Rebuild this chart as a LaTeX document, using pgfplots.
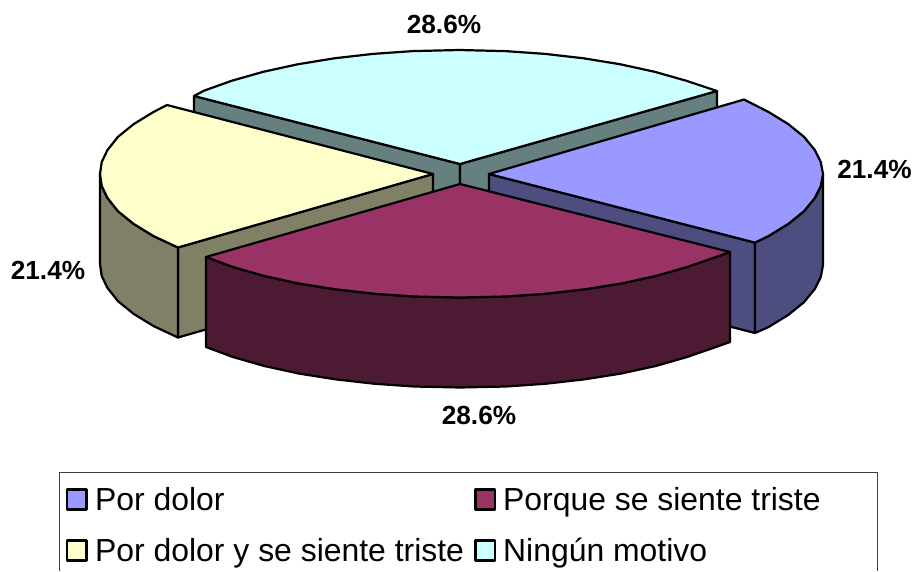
\documentclass[border=0pt]{standalone}
\usepackage{pgfplots}
\pgfplotsset{compat=1.18}
\usepackage{fontspec}
\setmainfont{Liberation Sans}
\definecolor{pT}{HTML}{9999FF}\definecolor{pW}{HTML}{4D4D80}
\definecolor{mT}{HTML}{993366}\definecolor{mW}{HTML}{4D1A33}
\definecolor{yT}{HTML}{FFFFCC}\definecolor{yW}{HTML}{808066}
\definecolor{cT}{HTML}{CCFFFF}\definecolor{cW}{HTML}{668080}
\begin{document}
\begin{tikzpicture}
\begin{axis}[
  scale only axis, width=916pt, height=571pt,
  xmin=0, xmax=916, ymin=0, ymax=571, y dir=reverse,
  hide axis, no marks,
  every axis plot/.append style={draw=black, line width=2.2pt, line join=round, mark=none},
]
\path[draw=none] (axis cs:0,0) rectangle (axis cs:916,571);
% --- Ningun motivo: inner walls
\addplot[fill=cW] coordinates {(194,96)(460,164)(460,254)(194,186)} -- cycle;
\addplot[fill=cW] coordinates {(717,91)(460,164)(460,254)(717,181)} -- cycle;
% --- inner walls of the two side slices
\addplot[fill=yW] coordinates {(433,174)(178,247.5)(178,337.5)(433,264)} -- cycle;
\addplot[fill=pW] coordinates {(489,174)(755,242.6)(755,333)(489,265)} -- cycle;
% --- outer walls
\addplot[fill=yW] coordinates {(100,174)(101.7,185.9)(107.3,197.7)(118,211.2)(133.7,223.9)(153.6,236.1)(178,247.5)
  (178,337.5)(153.6,326.1)(133.7,313.9)(118,301.2)(107.3,287.7)(101.7,275.9)(100,264)} -- cycle;
\addplot[fill=pW] coordinates {(823,174)(820.8,185.9)(815,197.7)(804,211.2)(788.3,223.9)(768.4,236.1)(755,242.6)
  (755,333)(768.4,327.1)(788.3,314.9)(804,302.2)(815,288.7)(820.8,276.9)(823,265)} -- cycle;
% --- top faces
\addplot[fill=yT] coordinates {(433,174)(167,105)(153.6,111.9)(133.7,124.1)(118,136.8)(107.3,150.3)(101.7,162.1)(100,174)
  (101.7,185.9)(107.3,197.7)(118,211.2)(133.7,223.9)(153.6,236.1)(178,247.5)} -- cycle;
\addplot[fill=pT] coordinates {(489,174)(744,99.5)(768.4,111.9)(788.3,124.1)(804,136.8)(815,150.3)(820.8,162.1)(823,174)
  (820.8,185.9)(815,197.7)(804,211.2)(788.3,223.9)(768.4,236.1)(755,242.6)} -- cycle;
\addplot[fill=cT] coordinates {(460,164)(717,91)(686.1,80.7)(654.7,71.8)(620.4,64.3)(583.7,58.3)(545.2,53.9)(505.3,51.1)(459,50)
  (412.7,51.1)(372.8,53.9)(334.3,58.3)(297.6,64.3)(263.3,71.8)(231.9,80.7)(204,90.7)(194,96)} -- cycle;
% --- Porque se siente triste
\addplot[fill=mW] coordinates {(206,257)(232.9,267)(264.3,276)(298.6,283.5)(335.3,289.3)(373.8,293.7)(413.7,296.5)(460,297.5)
  (506.3,296.5)(546.2,293.7)(584.7,289.3)(621.4,283.5)(655.7,276)(687.1,267)(715.1,257.3)(730,252)
  (730,342)(715.1,347.3)(687.1,357)(655.7,366)(621.4,373.5)(584.7,379.3)(546.2,383.7)(506.3,386.5)(460,387.5)
  (413.7,386.5)(373.8,383.7)(335.3,379.3)(298.6,373.5)(264.3,366)(232.9,357)(206,347)} -- cycle;
\addplot[fill=mT] coordinates {(460,184)(730,252)(715.1,257.3)(687.1,267)(655.7,276)(621.4,283.5)(584.7,289.3)(546.2,293.7)(506.3,296.5)(460,297.5)
  (413.7,296.5)(373.8,293.7)(335.3,289.3)(298.6,283.5)(264.3,276)(232.9,267)(206,257)} -- cycle;
% --- legend frame and swatches
\addplot[line width=1pt, draw=black!75] coordinates {(59,570.5)(59,472)(877,472)(877,570.5)};
\addplot[fill=pT, line width=2.4pt] coordinates {(67,489.5)(86.5,489.5)(86.5,509.5)(67,509.5)} -- cycle;
\addplot[fill=mT, line width=2.4pt] coordinates {(475.5,489.5)(495,489.5)(495,509.5)(475.5,509.5)} -- cycle;
\addplot[fill=yT, line width=2.4pt] coordinates {(67,540.5)(86.5,540.5)(86.5,560.5)(67,560.5)} -- cycle;
\addplot[fill=cT, line width=2.4pt] coordinates {(475.5,540.5)(495,540.5)(495,560.5)(475.5,560.5)} -- cycle;
% --- texts
\tikzset{lab/.style={anchor=base, inner sep=0pt, font=\fontsize{26.2}{26}\selectfont\bfseries},
         leg/.style={anchor=base west, inner sep=0pt, font=\fontsize{31.9}{32}\selectfont}}
\node[lab] at (axis cs:444,33) {28.6\%};
\node[lab] at (axis cs:874.5,178) {21.4\%};
\node[lab] at (axis cs:48,279) {21.4\%};
\node[lab] at (axis cs:479,424) {28.6\%};
\node[leg] at (axis cs:95,510) {Por dolor};
\node[leg] at (axis cs:503,510) {Porque se siente triste};
\node[leg] at (axis cs:95,561) {Por dolor y se siente triste};
\node[leg] at (axis cs:503,561) {Ningún motivo};
\end{axis}
\end{tikzpicture}
\end{document}
